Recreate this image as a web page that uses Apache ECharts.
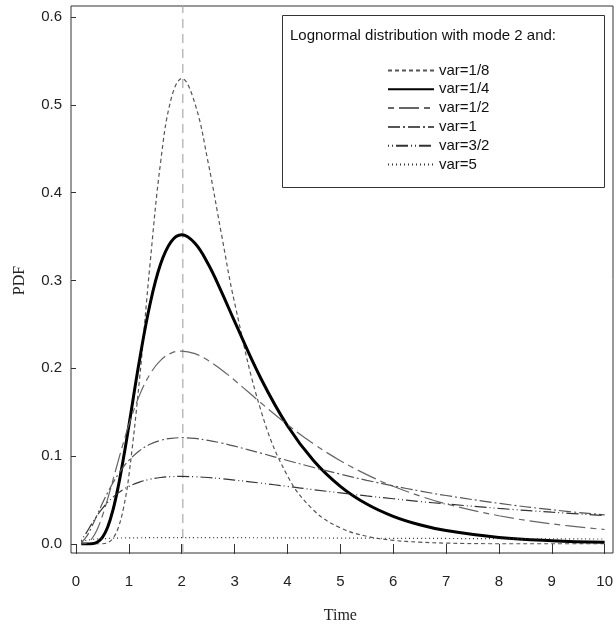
<!DOCTYPE html>
<html>
<head>
<meta charset="utf-8">
<script src="https://cdn.jsdelivr.net/npm/echarts@6/dist/echarts.min.js"></script>
<style>
  html, body { margin: 0; padding: 0; background: #fff; }
  #main { width: 616px; height: 629px; }
</style>
</head>
<body>
<div id="main"></div>
<script>
// time points
var times = [0.1, 0.2, 0.3, 0.4, 0.5, 0.6, 0.7, 0.8, 0.9, 1.0, 1.2, 1.4, 1.6, 1.8, 2.0,
  2.25, 2.5, 2.75, 3, 3.5, 4, 4.5, 5, 5.5, 6, 6.5, 7, 8, 9, 10];

// pdf values
var var1_8 = [0, 0, 0, 0, 0.0002, 0.0016, 0.0065, 0.0185, 0.0414, 0.0776, 0.1866, 0.3186, 0.4344, 0.5070, 0.5300,
  0.5014, 0.4343, 0.3532, 0.2746, 0.1515, 0.0776, 0.0382, 0.0184, 0.0088, 0.0042, 0.0021, 0.0010, 0.0002, 0.0001, 0];
var var1_4 = [0, 0, 0.0003, 0.0020, 0.0075, 0.0194, 0.0388, 0.0657, 0.0984, 0.1347, 0.2089, 0.2730, 0.3187, 0.3443, 0.3521,
  0.3424, 0.3187, 0.2874, 0.2534, 0.1882, 0.1347, 0.0945, 0.0657, 0.0455, 0.0315, 0.0219, 0.0153, 0.0075, 0.0038, 0.0020];
var var1_2 = [0, 0.0011, 0.0060, 0.0165, 0.0322, 0.0516, 0.0730, 0.0949, 0.1161, 0.1359, 0.1692, 0.1934, 0.2090, 0.2173, 0.2197,
  0.2167, 0.2090, 0.1985, 0.1864, 0.1606, 0.1359, 0.1138, 0.0949, 0.0790, 0.0657, 0.0548, 0.0457, 0.0322, 0.0229, 0.0165];
var var1 = [0.0014, 0.0085, 0.0200, 0.0331, 0.0463, 0.0586, 0.0697, 0.0795, 0.0880, 0.0952, 0.1062, 0.1135, 0.1180, 0.1203, 0.1210,
  0.1202, 0.1180, 0.1150, 0.1114, 0.1034, 0.0951, 0.0871, 0.0795, 0.0725, 0.0662, 0.0604, 0.0552, 0.0463, 0.0390, 0.0331];
var var3_2 = [0.0039, 0.0132, 0.0232, 0.0325, 0.0405, 0.0475, 0.0533, 0.0582, 0.0622, 0.0656, 0.0705, 0.0737, 0.0757, 0.0767, 0.0769,
  0.0766, 0.0757, 0.0744, 0.0728, 0.0693, 0.0656, 0.0618, 0.0582, 0.0547, 0.0515, 0.0484, 0.0456, 0.0405, 0.0362, 0.0324];
var var5 = [0.0030, 0.0043, 0.0051, 0.0057, 0.0060, 0.0063, 0.0066, 0.0067, 0.0069, 0.0070, 0.0071, 0.0072, 0.0073, 0.0073, 0.0073,
  0.0073, 0.0073, 0.0073, 0.0072, 0.0071, 0.0070, 0.0069, 0.0067, 0.0066, 0.0065, 0.0064, 0.0063, 0.0060, 0.0058, 0.0057];

var seriesNames = ['var=1/8', 'var=1/4', 'var=1/2', 'var=1', 'var=3/2', 'var=5'];
var modeX = 2;

var chart = echarts.init(document.getElementById('main'));

function pairs(ys) {
  return times.map(function (t, i) { return [t, ys[i]]; });
}

function curve(name, ys, color, width, dash) {
  return {
    name: name,
    type: 'line',
    xAxisIndex: 0,
    yAxisIndex: 0,
    data: pairs(ys),
    symbol: 'none',
    smooth: 0.4,
    silent: true,
    lineStyle: { color: color, width: width, type: dash },
    itemStyle: { color: color }
  };
}

var tickFont = { fontFamily: 'Liberation Sans, Arial, sans-serif', fontSize: 15, color: '#222' };
var nameFont = { fontFamily: 'Liberation Serif, DejaVu Serif, serif', fontSize: 16, color: '#222' };

var option = {
  animation: false,
  grid: [
    { left: 76, right: 6, top: 17, bottom: 84 },
    // frame round the plot region
    { left: 71, right: 3, top: 6, bottom: 76, show: true, borderColor: '#333', borderWidth: 1, backgroundColor: 'transparent' }
  ],
  xAxis: [
    {
      gridIndex: 0, type: 'value', min: 0, max: 10, interval: 1, offset: 8,
      name: 'Time', nameLocation: 'middle', nameGap: 56, nameTextStyle: nameFont,
      axisLine: { show: false },
      axisTick: { show: true, length: 10, lineStyle: { color: '#333' } },
      axisLabel: Object.assign({ margin: 22 }, tickFont),
      splitLine: { show: false }
    },
    { gridIndex: 1, type: 'value', min: -0.094, max: 10.056, show: false }
  ],
  yAxis: [
    {
      gridIndex: 0, type: 'value', min: 0, max: 0.6, interval: 0.1, offset: 5,
      name: 'PDF', nameLocation: 'middle', nameGap: 43, nameTextStyle: nameFont,
      axisLine: { show: false },
      axisTick: { show: true, length: 5, lineStyle: { color: '#333' } },
      axisLabel: Object.assign({ margin: 9, formatter: function (v) { return v.toFixed(1); } }, tickFont),
      splitLine: { show: false }
    },
    { gridIndex: 1, type: 'value', min: -0.009, max: 0.6125, show: false }
  ],
  legend: {
    data: seriesNames,
    orient: 'vertical',
    left: 387,
    top: 63,
    itemWidth: 46,
    itemHeight: 12,
    itemGap: 3.8,
    padding: 0,
    selectedMode: false,
    itemStyle: { opacity: 0 },
    textStyle: { fontFamily: 'Liberation Sans, Arial, sans-serif', fontSize: 15, color: '#111', lineHeight: 12 }
  },
  graphic: [
    {
      type: 'rect', left: 282, top: 15, z: 10,
      shape: { width: 322, height: 172 },
      style: { fill: 'transparent', stroke: '#333', lineWidth: 1 }
    },
    {
      type: 'text', left: 290, top: 28, z: 10,
      style: { text: 'Lognormal distribution with mode 2 and:', font: '15px "Liberation Sans", Arial, sans-serif', fill: '#111' }
    }
  ],
  series: [
    {
      name: 'mode',
      type: 'line',
      xAxisIndex: 1,
      yAxisIndex: 1,
      data: [[modeX, -0.009], [modeX, 0.6125]],
      symbol: 'none',
      silent: true,
      lineStyle: { color: '#aaa', width: 1.2, type: [9, 6] }
    },
    curve(seriesNames[0], var1_8, '#555', 1.2, [4, 3]),
    curve(seriesNames[1], var1_4, '#000', 3, 'solid'),
    curve(seriesNames[2], var1_2, '#666', 1.2, [6, 5, 20, 5]),
    curve(seriesNames[3], var1, '#555', 1.2, [12, 3, 2, 3]),
    curve(seriesNames[4], var3_2, '#333', 1.2, [1, 3, 1, 3, 12, 3]),
    curve(seriesNames[5], var5, '#333', 1.2, [1, 3])
  ]
};

chart.setOption(option);
</script>
</body>
</html>
